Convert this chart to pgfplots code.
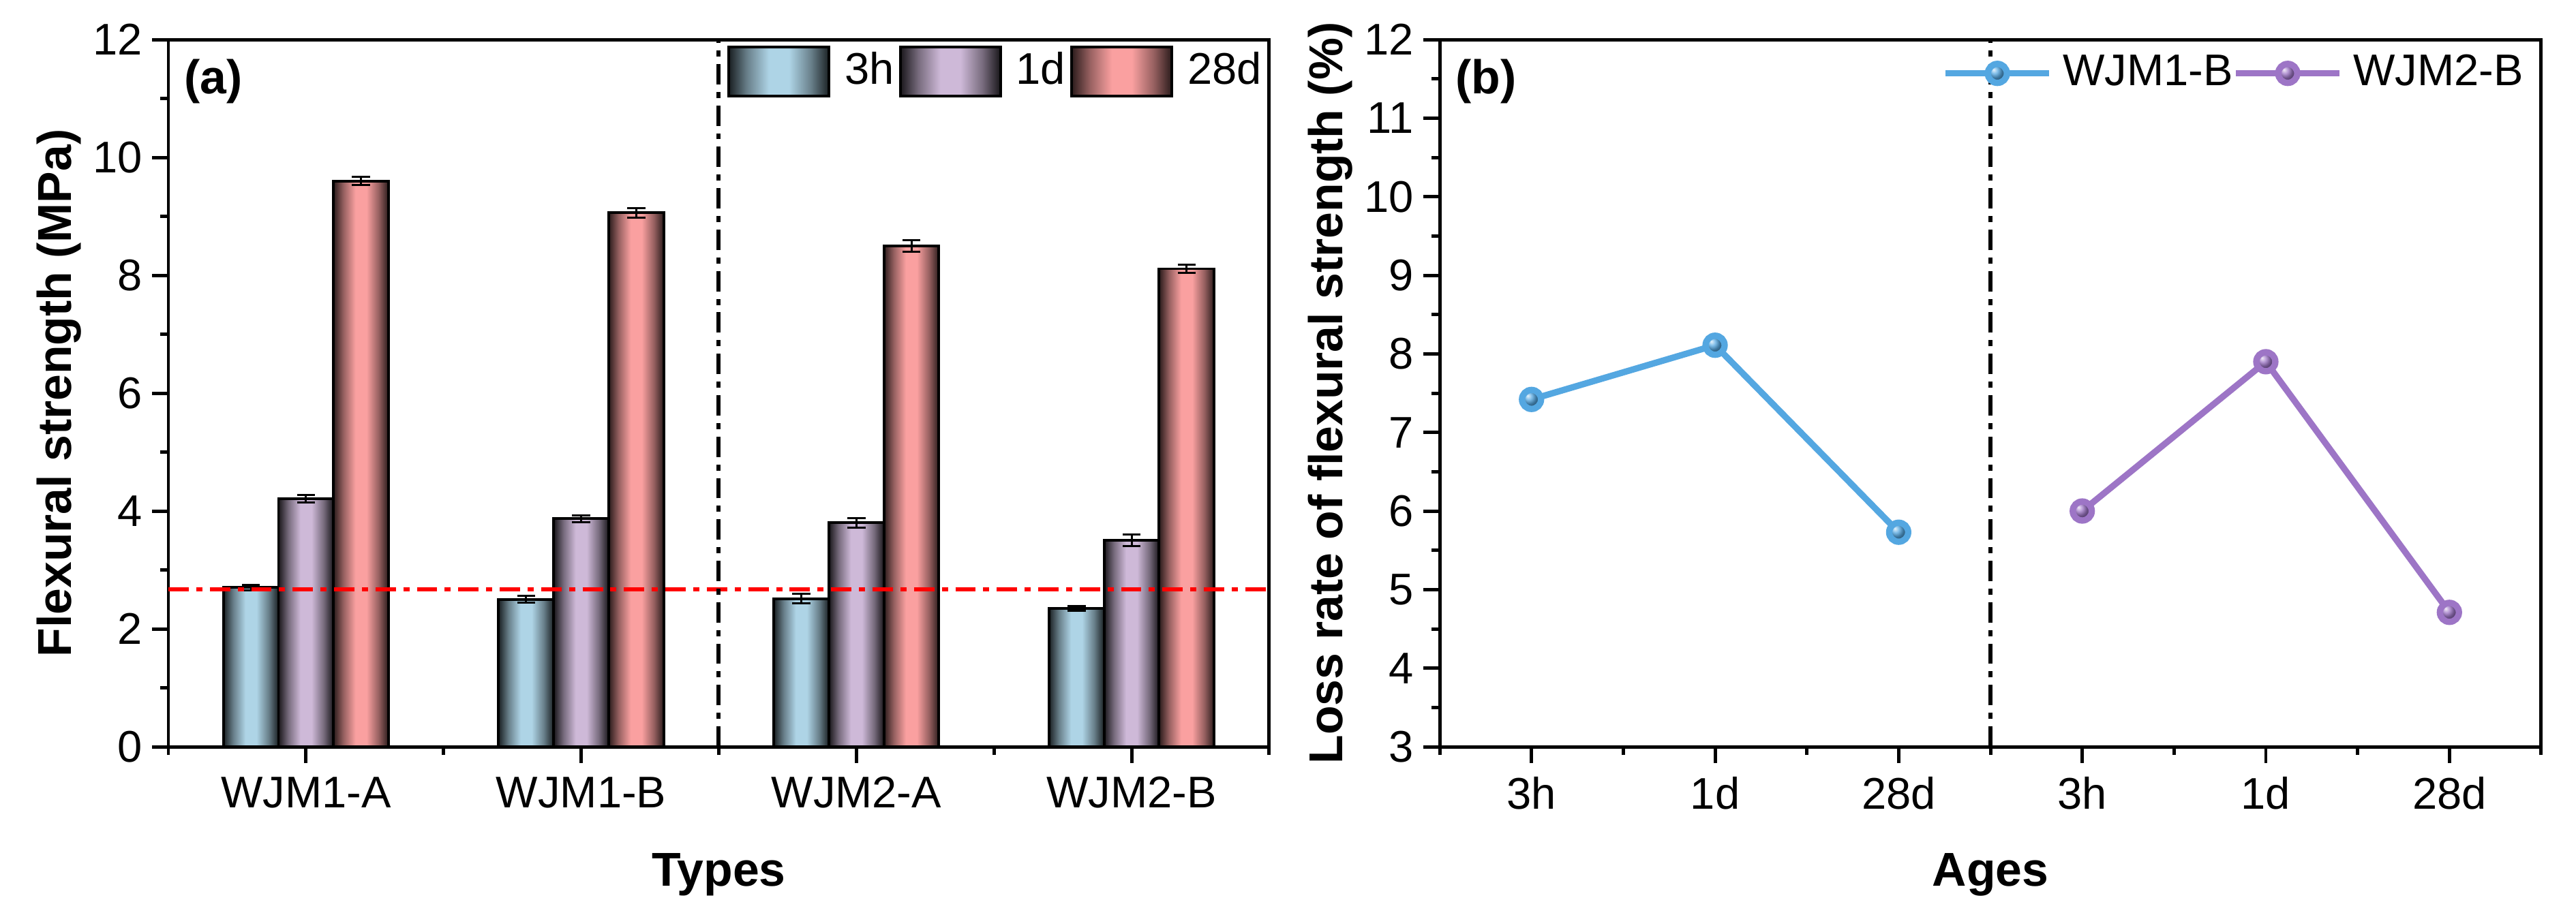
\documentclass[border=0pt]{standalone}
\usepackage{fontspec}
\setmainfont{Liberation Sans}
\usepackage{pgfplots}
\pgfplotsset{compat=1.18}
\usepackage{pgfplotstable}

\definecolor{cblue}{RGB}{174,212,230}
\definecolor{cpurp}{RGB}{206,185,216}
\definecolor{cpink}{RGB}{250,160,160}
\definecolor{lblue}{RGB}{84,167,225}
\definecolor{lpurp}{RGB}{157,117,198}

% cylinder-like shading: dark edges, light middle
\pgfdeclarehorizontalshading{shblue}{100bp}{color(0bp)=(cblue!15!black); color(25bp)=(cblue!15!black);
  color(34bp)=(cblue!60!black); color(45bp)=(cblue); color(55bp)=(cblue);
  color(66bp)=(cblue!60!black); color(75bp)=(cblue!15!black); color(100bp)=(cblue!15!black)}
\pgfdeclarehorizontalshading{shpurp}{100bp}{color(0bp)=(cpurp!12!black); color(25bp)=(cpurp!12!black);
  color(34bp)=(cpurp!58!black); color(45bp)=(cpurp); color(55bp)=(cpurp);
  color(66bp)=(cpurp!58!black); color(75bp)=(cpurp!12!black); color(100bp)=(cpurp!12!black)}
\pgfdeclarehorizontalshading{shpink}{100bp}{color(0bp)=(cpink!17!black); color(25bp)=(cpink!17!black);
  color(34bp)=(cpink!60!black); color(45bp)=(cpink); color(55bp)=(cpink);
  color(66bp)=(cpink!60!black); color(75bp)=(cpink!17!black); color(100bp)=(cpink!17!black)}

% flexural strength (MPa) and error
\pgfplotstableread{
x h3   h3e  d1   d1e  d28  d28e
0 2.70 0.05 4.21 0.06 9.60 0.07
1 2.50 0.06 3.87 0.06 9.06 0.08
2 2.51 0.08 3.80 0.08 8.50 0.10
3 2.35 0.04 3.50 0.10 8.11 0.07
}\flexdata

% loss rate (%)
\pgfplotstableread{
x y
0 7.42
1 8.11
2 5.73
}\wjmone
\pgfplotstableread{
x y
3 6.00
4 7.90
5 4.71
}\wjmtwo

\newcommand{\labfont}{\bfseries\fontsize{10.5}{12.5}\selectfont}

\pgfplotsset{
  panel/.style={
    scale only axis, height=5.4935cm, anchor=south west,
    axis line style={line width=0.75pt},
    tick align=outside, tick pos=left,
    major tick length=0.127cm, minor tick length=0.065cm,
    tick style={black, line width=0.75pt},
    tick label style={font=\fontsize{9.8}{11.5}\selectfont, inner sep=0pt},
    xticklabel shift=0.1cm, yticklabel shift=0.07cm,
    /pgf/number format/assume math mode=true,
    every axis y label/.style={at={([xshift=-0.85cm]rel axis cs:0,0.5)}, rotate=90,
      anchor=center, inner sep=0pt, font=\labfont},
    every axis x label/.style={at={([yshift=-0.82cm]rel axis cs:0.5,0)}, anchor=north,
      inner sep=0pt, font=\labfont},
    legend cell align=left,
    legend style={draw=none, fill=none, inner sep=0pt, outer sep=0pt, column sep=0pt,
      nodes={inner sep=0pt}, font=\fontsize{9.8}{11.5}\selectfont},
  },
  barsty/.style={ybar, bar width=0.2, draw=black, line width=0.6pt, shade,
    legend image code/.code={\path (-0.037cm,0) (0.889cm,0);
      \draw[##1] (0cm,-0.19cm) rectangle (0.778cm,0.19cm);}},
  errsty/.style={draw=none, mark=none, forget plot,
    error bars/.cd, y dir=both, y explicit, error mark=|,
    error bar style={solid, draw=black, line width=0.45pt},
    error mark options={solid, draw=black, line width=0.45pt, mark size=2pt}},
  dashdot/.style={dash pattern=on 4.5pt off 1.65pt on 1.35pt off 1.65pt, line width=0.9pt},
}

\newcommand{\onebar}[4]{\addplot[barsty, shading=#1, bar shift=#2, forget plot] coordinates {(#3,#4)};}

\begin{document}
\begin{tikzpicture}
\useasboundingbox (0,0) rectangle (20cm,7.1024cm);

% (a) flexural strength
\begin{axis}[panel, at={(1.3072cm,1.3019cm)}, width=8.547cm,
  xmin=-0.5, xmax=3.5, ymin=0, ymax=12,
  xtick={0,1,2,3}, xticklabels={WJM1-A,WJM1-B,WJM2-A,WJM2-B},
  minor xtick={-0.5,0.5,1.5,2.5,3.5},
  ytick={0,2,...,12}, minor ytick={1,3,...,11},
  xlabel={Types}, ylabel={Flexural strength (MPa)},
  legend columns=3,
  legend style={at={(1,1)}, anchor=north east, xshift=-0.06cm, yshift=-0.048cm},
]
\addlegendimage{barsty, shading=shblue}\addlegendentry{3h}
\addlegendimage{barsty, shading=shpurp}\addlegendentry{1d}
\addlegendimage{barsty, shading=shpink}\addlegendentry{28d}

\onebar{shblue}{-0.2}{0}{2.70}
\onebar{shblue}{-0.2}{1}{2.50}
\onebar{shblue}{-0.2}{2}{2.51}
\onebar{shblue}{-0.2}{3}{2.35}
\onebar{shpurp}{0}{0}{4.21}
\onebar{shpurp}{0}{1}{3.87}
\onebar{shpurp}{0}{2}{3.80}
\onebar{shpurp}{0}{3}{3.50}
\onebar{shpink}{0.2}{0}{9.60}
\onebar{shpink}{0.2}{1}{9.06}
\onebar{shpink}{0.2}{2}{8.50}
\onebar{shpink}{0.2}{3}{8.11}

\addplot[errsty] table[x expr=\thisrow{x}-0.2, y=h3, y error=h3e] {\flexdata};
\addplot[errsty] table[x=x, y=d1, y error=d1e] {\flexdata};
\addplot[errsty] table[x expr=\thisrow{x}+0.2, y=d28, y error=d28e] {\flexdata};

\addplot[red, dashdot, forget plot] coordinates {(-0.5,2.67) (3.5,2.67)};
\addplot[black, dashdot, forget plot] coordinates {(1.5,0) (1.5,12)};

\node[anchor=north west, inner sep=0pt, font=\labfont]
  at ([xshift=0.116cm, yshift=-0.148cm]rel axis cs:0,1) {(a)};
\end{axis}

% (b) loss rate
\begin{axis}[panel, at={(11.178cm,1.3019cm)}, width=8.552cm,
  xmin=-0.5, xmax=5.5, ymin=3, ymax=12,
  xtick={0,...,5}, xticklabels={3h,1d,28d,3h,1d,28d},
  minor xtick={-0.5,0.5,...,5.5},
  ytick={3,...,12}, minor ytick={3.5,4.5,...,11.5},
  xlabel={Ages}, ylabel={Loss rate of flexural strength (\%)},
  legend columns=2,
  legend style={at={(1,1)}, anchor=north east, xshift=-0.14cm, yshift=-0.116cm},
  legend image code/.code={\path (0.885cm,0);
    \draw[mark repeat=2, mark phase=2, #1] plot coordinates {(0cm,0cm) (0.402cm,0cm) (0.804cm,0cm)};},
]
\addplot[lblue, line width=1.4pt, mark=ball, mark size=2.1pt, mark options={ball color=lblue}]
  table[x=x, y=y] {\wjmone};
\addlegendentry{WJM1-B}
\addplot[lpurp, line width=1.4pt, mark=ball, mark size=2.1pt, mark options={ball color=lpurp}]
  table[x=x, y=y] {\wjmtwo};
\addlegendentry{WJM2-B}

\addplot[black, dashdot, forget plot] coordinates {(2.5,3) (2.5,12)};

\node[anchor=north west, inner sep=0pt, font=\labfont]
  at ([xshift=0.116cm, yshift=-0.148cm]rel axis cs:0,1) {(b)};
\end{axis}
\end{tikzpicture}
\end{document}
